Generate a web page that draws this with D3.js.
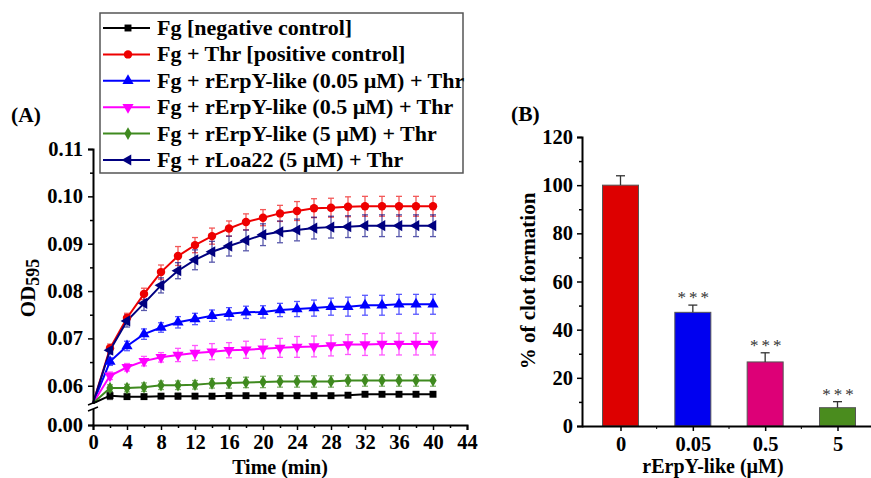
<!DOCTYPE html>
<html>
<head>
<meta charset="utf-8">
<script src="https://cdn.jsdelivr.net/npm/d3@7"></script>
<style>
  body { margin: 0; background: #fff; }
  svg { display: block; font-family: "Liberation Serif", "Times New Roman", serif; font-weight: bold; }
</style>
</head>
<body>
<div id="chart"></div>
<script>
// ---- panel A data (OD595 vs time) ----
const times = [0, 2, 4, 6, 8, 10, 12, 14, 16, 18, 20, 22, 24, 26, 28, 30, 32, 34, 36, 38, 40];

const negValues = [0.0563, 0.0579, 0.0577, 0.0577, 0.0578, 0.0578, 0.0578, 0.0578, 0.0579, 0.0579, 0.0579, 0.0579, 0.0579, 0.0579, 0.0579, 0.0580, 0.0582, 0.0582, 0.0582, 0.0582, 0.0582];
const negErrors = [0, 0.0008, 0.0003, 0.0002, 0.0002, 0.0006, 0.0004, 0.0005, 0.0002, 0.0002, 0.0002, 0.0002, 0.0002, 0.0002, 0.0002, 0.0002, 0.0002, 0.0002, 0.0002, 0.0002, 0.0002];

const posValues = [0.0563, 0.0679, 0.0743, 0.0794, 0.0840, 0.0874, 0.0897, 0.0916, 0.0932, 0.0946, 0.0955, 0.0964, 0.0969, 0.0975, 0.0976, 0.0978, 0.0979, 0.0979, 0.0979, 0.0979, 0.0979];
const posErrors = [0, 0.0009, 0.0010, 0.0012, 0.0015, 0.0020, 0.0016, 0.0017, 0.0016, 0.0017, 0.0017, 0.0017, 0.0020, 0.0020, 0.0020, 0.0021, 0.0021, 0.0021, 0.0021, 0.0021, 0.0021];

const low005Values = [0.0563, 0.0651, 0.0684, 0.0709, 0.0723, 0.0734, 0.0741, 0.0748, 0.0752, 0.0755, 0.0756, 0.0760, 0.0762, 0.0764, 0.0767, 0.0767, 0.0770, 0.0770, 0.0772, 0.0772, 0.0772];
const low005Errors = [0, 0.0008, 0.0010, 0.0011, 0.0010, 0.0012, 0.0012, 0.0012, 0.0013, 0.0013, 0.0013, 0.0014, 0.0016, 0.0017, 0.0018, 0.0020, 0.0021, 0.0021, 0.0021, 0.0021, 0.0021];

const mid05Values = [0.0563, 0.0621, 0.0639, 0.0652, 0.0660, 0.0665, 0.0669, 0.0672, 0.0675, 0.0676, 0.0678, 0.0680, 0.0682, 0.0683, 0.0685, 0.0687, 0.0687, 0.0688, 0.0688, 0.0688, 0.0688];
const mid05Errors = [0, 0.0008, 0.0008, 0.0010, 0.0010, 0.0014, 0.0016, 0.0017, 0.0016, 0.0018, 0.0020, 0.0020, 0.0022, 0.0022, 0.0022, 0.0021, 0.0023, 0.0023, 0.0023, 0.0023, 0.0023];

const high5Values = [0.0563, 0.0595, 0.0595, 0.0597, 0.0601, 0.0601, 0.0602, 0.0605, 0.0606, 0.0607, 0.0608, 0.0609, 0.0609, 0.0609, 0.0609, 0.0611, 0.0611, 0.0611, 0.0611, 0.0611, 0.0611];
const high5Errors = [0, 0.0007, 0.0008, 0.0009, 0.0009, 0.0009, 0.0009, 0.0010, 0.0011, 0.0011, 0.0012, 0.0012, 0.0012, 0.0012, 0.0012, 0.0012, 0.0012, 0.0012, 0.0012, 0.0012, 0.0012];

const loaValues = [0.0563, 0.0675, 0.0737, 0.0774, 0.0812, 0.0843, 0.0866, 0.0883, 0.0895, 0.0907, 0.0919, 0.0925, 0.0929, 0.0933, 0.0935, 0.0936, 0.0938, 0.0938, 0.0938, 0.0938, 0.0938];
const loaErrors = [0, 0.0008, 0.0013, 0.0015, 0.0016, 0.0017, 0.0021, 0.0022, 0.0021, 0.0022, 0.0023, 0.0023, 0.0023, 0.0023, 0.0023, 0.0023, 0.0023, 0.0023, 0.0023, 0.0023, 0.0023];

const seriesNames = [
  "Fg [negative control]",
  "Fg + Thr [positive control]",
  "Fg + rErpY-like (0.05 \u00b5M) + Thr",
  "Fg + rErpY-like (0.5 \u00b5M) + Thr",
  "Fg + rErpY-like (5 \u00b5M) + Thr",
  "Fg + rLoa22 (5 \u00b5M) + Thr"
];
const yTicksA = [0, 0.06, 0.07, 0.08, 0.09, 0.10, 0.11];
const xTicksA = [0, 4, 8, 12, 16, 20, 24, 28, 32, 36, 40, 44];

// ---- panel B data (% clot formation) ----
const doses = ["0", "0.05", "0.5", "5"];
const clotPercent = [100, 47.2, 26.6, 7.6];
const clotError = [3.9, 3.0, 3.8, 2.5];
const clotSignif = ["", "***", "***", "***"];
const yTicksB = [0, 20, 40, 60, 80, 100, 120];

const series = [
  { name: seriesNames[0], values: negValues, errors: negErrors, color: "#000000", symbol: d3.symbolSquare, rot: 0, size: 48 },
  { name: seriesNames[1], values: posValues, errors: posErrors, color: "#ee0000", symbol: d3.symbolCircle, rot: 0, size: 56 },
  { name: seriesNames[2], values: low005Values, errors: low005Errors, color: "#0000ff", symbol: d3.symbolTriangle, rot: 0, size: 54 },
  { name: seriesNames[3], values: mid05Values, errors: mid05Errors, color: "#ff00ff", symbol: d3.symbolTriangle, rot: 180, size: 54 },
  { name: seriesNames[4], values: high5Values, errors: high5Errors, color: "#3f8a1f", symbol: d3.symbolDiamond, rot: 0, size: 46 },
  { name: seriesNames[5], values: loaValues, errors: loaErrors, color: "#000080", symbol: d3.symbolTriangle, rot: -90, size: 54 }
];

const W = 871, H = 478;
const svg = d3.select("#chart").append("svg")
  .attr("width", W)
  .attr("height", H);

// ================= Panel A =================
const xA = d3.scaleLinear().domain([0, 44]).range([93, 467]);
// broken axis: 0.00 at bottom, upper segment starts ~0.0553
const yA = d3.scaleLinear().domain([0, 0.0553, 0.11]).range([425, 408, 149]);

const gA = svg.append("g");

// error bars
series.forEach(s => {
  const eb = gA.append("g")
    .attr("stroke", s.color)
    .attr("stroke-width", 1.3)
    .attr("opacity", 0.65);
  times.forEach((t, i) => {
    if (!s.errors[i]) return;
    const cx = xA(t);
    const y1 = yA(s.values[i] + s.errors[i]);
    const y2 = yA(s.values[i] - s.errors[i]);
    eb.append("line").attr("x1", cx).attr("x2", cx).attr("y1", y1).attr("y2", y2);
    eb.append("line").attr("x1", cx - 3).attr("x2", cx + 3).attr("y1", y1).attr("y2", y1);
    eb.append("line").attr("x1", cx - 3).attr("x2", cx + 3).attr("y1", y2).attr("y2", y2);
  });
});

const line = d3.line()
  .x((d, i) => xA(times[i]))
  .y(d => yA(d));

series.forEach(s => {
  gA.append("path")
    .datum(s.values)
    .attr("fill", "none")
    .attr("stroke", s.color)
    .attr("stroke-width", 2)
    .attr("d", line);
});

series.forEach(s => {
  gA.append("g").selectAll("path")
    .data(s.values.slice(1))
    .enter().append("path")
    .attr("d", d3.symbol().type(s.symbol).size(s.size))
    .attr("transform", (d, i) => `translate(${xA(times[i + 1])},${yA(d)}) rotate(${s.rot})`)
    .attr("fill", s.color);
});

// axes A
gA.append("g")
  .attr("transform", "translate(0,425)")
  .call(d3.axisBottom(xA).tickValues(xTicksA).tickSize(5).tickPadding(4));
gA.append("g")
  .attr("transform", "translate(0,425)")
  .call(d3.axisBottom(xA).tickValues(d3.range(2, 44, 4)).tickSize(3).tickFormat(""))
  .select(".domain").remove();

gA.append("g")
  .attr("transform", "translate(93,0)")
  .call(d3.axisLeft(yA).tickValues(yTicksA).tickSize(5).tickPadding(5).tickFormat(d3.format(".2f")));
gA.append("g")
  .attr("transform", "translate(93,0)")
  .call(d3.axisLeft(yA).tickValues([0.065, 0.075, 0.085, 0.095, 0.105]).tickSize(3).tickFormat(""))
  .select(".domain").remove();

// axis break marks
gA.append("rect").attr("x", 88).attr("y", 404).attr("width", 10).attr("height", 5).attr("fill", "#fff");
[403, 409].forEach(yy => {
  gA.append("line")
    .attr("x1", 88).attr("x2", 98)
    .attr("y1", yy + 2).attr("y2", yy - 2)
    .attr("stroke", "#000").attr("stroke-width", 1.5);
});

// legend
const legend = gA.append("g");
legend.append("rect")
  .attr("x", 100).attr("y", 13).attr("width", 363).attr("height", 160)
  .attr("fill", "#fff").attr("stroke", "#555").attr("stroke-width", 1.5);
series.forEach((s, i) => {
  const ly = 28 + i * 26.4;
  legend.append("line")
    .attr("x1", 103).attr("x2", 150).attr("y1", ly).attr("y2", ly)
    .attr("stroke", s.color).attr("stroke-width", 2);
  legend.append("path")
    .attr("d", d3.symbol().type(s.symbol).size(s.size))
    .attr("transform", `translate(128,${ly}) rotate(${s.rot})`)
    .attr("fill", s.color);
  legend.append("text")
    .attr("x", 157).attr("y", ly + 7)
    .style("font-size", "22px")
    .text(s.name);
});

// labels A
gA.append("text").attr("x", 11).attr("y", 122).style("font-size", "21.5px").text("(A)");
gA.append("text")
  .attr("x", 280).attr("y", 473.5)
  .attr("text-anchor", "middle")
  .style("font-size", "20px")
  .text("Time (min)");
const odLabel = gA.append("text")
  .attr("transform", "translate(35,288) rotate(-90)")
  .attr("text-anchor", "middle")
  .style("font-size", "21px");
odLabel.append("tspan").text("OD");
odLabel.append("tspan").attr("dy", 4).style("font-size", "18px").text("595");

// ================= Panel B =================
const xB = d3.scalePoint().domain(doses).range([620.5, 837.5]);
const stepB = xB.step();
const yB = d3.scaleLinear().domain([0, 120]).range([426, 137]);
const barW = 36;

const gB = svg.append("g");

gB.selectAll(".bar")
  .data(doses)
  .enter().append("rect")
  .attr("class", "bar")
  .attr("x", d => xB(d) - barW / 2)
  .attr("y", (d, i) => yB(clotPercent[i]))
  .attr("width", barW)
  .attr("height", (d, i) => yB(0) - yB(clotPercent[i]))
  .attr("fill", (d, i) => ["#dd0000", "#0000f0", "#dd0077", "#4a8c1e"][i])
  .attr("stroke", "#555")
  .attr("stroke-width", 1);

doses.forEach((d, i) => {
  const cx = xB(d);
  const top = yB(clotPercent[i] + clotError[i]);
  const base = yB(clotPercent[i]);
  gB.append("line").attr("x1", cx).attr("x2", cx).attr("y1", top).attr("y2", base)
    .attr("stroke", "#333").attr("stroke-width", 1.3);
  gB.append("line").attr("x1", cx - 4.5).attr("x2", cx + 4.5).attr("y1", top).attr("y2", top)
    .attr("stroke", "#333").attr("stroke-width", 1.3);
  if (clotSignif[i]) {
    gB.append("text")
      .attr("x", cx + 2).attr("y", top - 2)
      .attr("text-anchor", "middle")
      .style("font-size", "17px")
      .style("font-weight", "normal")
      .style("letter-spacing", "3px")
      .attr("fill", "#333")
      .text(clotSignif[i]);
  }
});

// axes B
const xAxisB = gB.append("g")
  .attr("transform", "translate(0,426)")
  .call(d3.axisBottom(xB).tickSize(5).tickPadding(5));
xAxisB.select(".domain").attr("d", "M582,0.5H871");
gB.append("g")
  .attr("transform", "translate(0,426)")
  .selectAll("line")
  .data(doses.slice(0, 3))
  .enter().append("line")
  .attr("x1", d => xB(d) + stepB / 2).attr("x2", d => xB(d) + stepB / 2)
  .attr("y1", 0).attr("y2", 3)
  .attr("stroke", "#000");

gB.append("g")
  .attr("transform", "translate(582,0)")
  .call(d3.axisLeft(yB).tickValues(yTicksB).tickSize(5).tickPadding(4));
gB.append("g")
  .attr("transform", "translate(582,0)")
  .call(d3.axisLeft(yB).tickValues([10, 30, 50, 70, 90, 110]).tickSize(3).tickFormat(""))
  .select(".domain").remove();

gB.append("text").attr("x", 511).attr("y", 121).style("font-size", "21.5px").text("(B)");
gB.append("text")
  .attr("transform", "translate(535,281) rotate(-90)")
  .attr("text-anchor", "middle")
  .style("font-size", "21px")
  .text("% of clot formation");
gB.append("text")
  .attr("x", 713).attr("y", 473)
  .attr("text-anchor", "middle")
  .style("font-size", "20px")
  .text("rErpY-like (\u00b5M)");

// shared axis styling
svg.selectAll(".domain").attr("stroke", "#000").attr("stroke-width", 2);
svg.selectAll(".tick line").attr("stroke", "#000").attr("stroke-width", 1.5);
svg.selectAll(".tick text")
  .style("font-family", "Liberation Serif, Times New Roman, serif")
  .style("font-weight", "bold")
  .style("font-size", "20.5px")
  .attr("fill", "#000");
</script>
</body>
</html>
